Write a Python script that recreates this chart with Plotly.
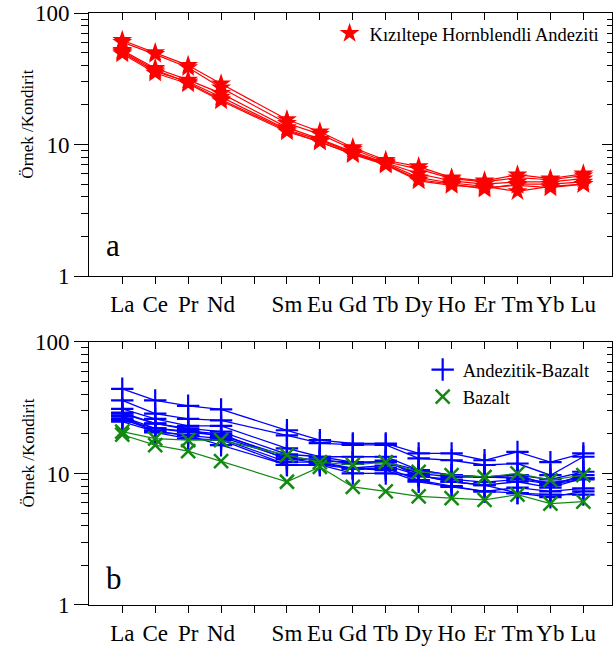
import plotly.graph_objects as go

elements = ["La", "Ce", "Pr", "Nd", "Pm", "Sm", "Eu", "Gd", "Tb", "Dy", "Ho", "Er", "Tm", "Yb", "Lu"]
tick_text = ["La", "Ce", "Pr", "Nd", "", "Sm", "Eu", "Gd", "Tb", "Dy", "Ho", "Er", "Tm", "Yb", "Lu"]
ree = ["La", "Ce", "Pr", "Nd", "Sm", "Eu", "Gd", "Tb", "Dy", "Ho", "Er", "Tm", "Yb", "Lu"]

# Kızıltepe Hornblendli Andeziti (panel a)
kiz_1 = [62, 50, 40, 29, 15.5, 12.5, 9.5, 7.6, 6.8, 5.6, 5.3, 5.9, 5.5, 6.0]
kiz_2 = [60, 48.5, 38.5, 27, 14.5, 12.0, 9.2, 7.4, 6.5, 5.5, 5.2, 5.6, 5.4, 5.8]
kiz_3 = [52, 38, 31, 24.5, 13.5, 11.0, 8.8, 7.3, 6.0, 5.3, 5.0, 5.2, 5.2, 5.5]
kiz_4 = [50, 36, 30, 23, 13.0, 10.8, 8.6, 7.2, 5.6, 5.1, 4.8, 4.4, 4.8, 5.0]
kiz_5 = [51, 37, 29.5, 22, 12.8, 10.5, 8.5, 7.1, 5.4, 5.0, 4.6, 5.0, 5.0, 5.2]
kiz_6 = [49, 35, 29, 21.5, 12.5, 10.5, 8.4, 7.0, 5.3, 4.9, 4.7, 4.9, 4.7, 5.0]
kiz_series = [kiz_1, kiz_2, kiz_3, kiz_4, kiz_5, kiz_6]

# Andezitik-Bazalt (panel b)
ab_1 = [44, 35.9, 32.7, 30.7, 21.3, 17.9, 16.9, 16.9, 14.2, 14.2, 12.6, 14.6, 12.2, 14.2]
ab_2 = [35.9, 28.5, 26, 25.3, 19.5, 17.0, 16.5, 16.5, 13.0, 12.6, 11.6, 11.9, 9.7, 13.4]
ab_3 = [31, 26, 23, 23, 15.5, 13.4, 13.4, 13.4, 10.6, 9.7, 9.4, 9.7, 9.0, 10.3]
ab_4 = [28.5, 23.9, 22, 20.8, 14.0, 13.4, 12.2, 12.2, 10.6, 9.7, 9.4, 9.7, 8.15, 9.7]
ab_5 = [27, 22, 20.5, 19.5, 13.5, 12.5, 12.2, 12.2, 10.0, 9.4, 9.4, 9.2, 8.5, 9.2]
ab_6 = [26, 21, 19.5, 18.4, 12.2, 12.2, 11.0, 11.5, 9.7, 8.65, 8.15, 8.65, 7.8, 9.2]
ab_7 = [24.8, 20.8, 19.5, 16.4, 11.6, 11.6, 10.9, 10.6, 8.65, 7.9, 7.3, 7.8, 7.3, 7.7]
ab_8 = [25.5, 22, 21, 20, 12.8, 12.8, 11.8, 12.5, 9.5, 9.0, 8.6, 9.0, 8.3, 9.0]
ab_9 = [27.5, 20.5, 18.4, 18, 11.6, 11.6, 10.0, 10.0, 9.7, 8.65, 8.15, 7.1, 6.9, 6.9]
ab_10 = [29, 24, 21.5, 19, 13.0, 12.0, 10.9, 11.0, 8.9, 8.0, 7.3, 7.1, 6.6, 7.3]
ab_series = [ab_1, ab_2, ab_3, ab_4, ab_5, ab_6, ab_7, ab_8, ab_9, ab_10]

# Bazalt (panel b)
baz_1 = [20.8, 18.4, 17.9, 17.9, 13.8, 12.2, 11.6, 12.2, 10.3, 9.7, 9.4, 10.0, 8.9, 9.7]
baz_2 = [19.7, 16.4, 14.8, 12.4, 8.65, 11.2, 7.9, 7.3, 6.7, 6.5, 6.3, 6.9, 5.9, 6.1]
baz_series = [baz_1, baz_2]

x_pos = [elements.index(e) for e in ree]
y_major = [1, 10, 100]
y_minor = [2, 3, 4, 5, 6, 7, 8, 9, 20, 30, 40, 50, 60, 70, 80, 90]

FONT = "Liberation Serif, Times New Roman, serif"
RED, BLUE, GREEN = "#ff0000", "#0000ff", "#128a12"

fig = go.Figure()

for s in kiz_series:
    fig.add_trace(go.Scatter(x=x_pos, y=s, mode="lines+markers", xaxis="x", yaxis="y",
                             line=dict(color=RED, width=1.2),
                             marker=dict(symbol="star", size=15, color=RED, line=dict(width=0)),
                             showlegend=False, hoverinfo="skip"))
for s in ab_series:
    fig.add_trace(go.Scatter(x=x_pos, y=s, mode="lines+markers", xaxis="x2", yaxis="y2",
                             line=dict(color=BLUE, width=1.3),
                             marker=dict(symbol="cross-thin-open", size=16, color=BLUE,
                                         line=dict(width=2.2, color=BLUE)),
                             showlegend=False, hoverinfo="skip"))
for s in baz_series:
    fig.add_trace(go.Scatter(x=x_pos, y=s, mode="lines+markers", xaxis="x2", yaxis="y2",
                             line=dict(color=GREEN, width=1.2),
                             marker=dict(symbol="x-thin-open", size=14, color=GREEN,
                                         line=dict(width=2.5, color=GREEN)),
                             showlegend=False, hoverinfo="skip"))

# legend entries (marker only)
fig.add_trace(go.Scatter(x=[None], y=[None], mode="markers", xaxis="x", yaxis="y",
                         name="Kızıltepe Hornblendli Andeziti", legend="legend",
                         marker=dict(symbol="star", size=15, color=RED, line=dict(width=0))))
fig.add_trace(go.Scatter(x=[None], y=[None], mode="markers", xaxis="x2", yaxis="y2",
                         name="Andezitik-Bazalt", legend="legend2",
                         marker=dict(symbol="cross-thin-open", size=16, color=BLUE,
                                     line=dict(width=2.2, color=BLUE))))
fig.add_trace(go.Scatter(x=[None], y=[None], mode="markers", xaxis="x2", yaxis="y2",
                         name="Bazalt", legend="legend2",
                         marker=dict(symbol="x-thin-open", size=14, color=GREEN,
                                     line=dict(width=2.5, color=GREEN))))

# dummy traces for the mirror axes (top / right with inward ticks)
for xa, ya in [("x3", "y"), ("x", "y3"), ("x4", "y2"), ("x2", "y4")]:
    fig.add_trace(go.Scatter(x=[None], y=[None], xaxis=xa, yaxis=ya, showlegend=False,
                             hoverinfo="skip"))

XR = [-1.01, 14.87]
dom_top = [0.5556, 1.0]
dom_bot = [0.0, 0.4444]

def xbase(domain, anchor):
    return dict(domain=[0, 1], anchor=anchor, range=XR, tickmode="array",
                tickvals=list(range(len(elements))), ticktext=tick_text,
                ticks="outside", ticklen=7, tickwidth=1, tickcolor="black",
                showline=True, linecolor="black", linewidth=1, showgrid=False,
                zeroline=False, tickfont=dict(family=FONT, size=23, color="black"))

def xtop(overlay, anchor):
    return dict(overlaying=overlay, anchor=anchor, side="top", range=XR, tickmode="array",
                tickvals=list(range(len(elements))), ticks="inside", ticklen=7, tickwidth=1,
                tickcolor="black", showticklabels=False, showline=True, linecolor="black",
                linewidth=1, showgrid=False, zeroline=False)

def ybase(domain, anchor):
    return dict(domain=domain, anchor=anchor, type="log", range=[0, 2], tickmode="array",
                tickvals=y_major, ticktext=["1", "10", "100"], ticks="outside", ticklen=14,
                tickwidth=1, tickcolor="black",
                minor=dict(tickmode="array", tickvals=y_minor, ticks="outside", ticklen=7,
                           tickwidth=1, tickcolor="black", showgrid=False),
                showline=True, linecolor="black", linewidth=1, showgrid=False, zeroline=False,
                tickfont=dict(family=FONT, size=23, color="black"))

def yright(overlay, anchor, domain):
    return dict(overlaying=overlay, anchor=anchor, side="right", type="log", range=[0, 2],
                domain=domain, tickmode="array", tickvals=y_major, ticks="inside", ticklen=10,
                tickwidth=1, tickcolor="black", showticklabels=False,
                minor=dict(tickmode="array", tickvals=y_minor, ticks="inside", ticklen=5,
                           tickwidth=1, tickcolor="black", showgrid=False),
                showline=True, linecolor="black", linewidth=1, showgrid=False, zeroline=False)

def ytitle(ypaper):
    return dict(text="Örnek /Kondirit", xref="paper", yref="paper", x=-0.1166, y=ypaper,
                xanchor="center", yanchor="middle", textangle=-90, showarrow=False,
                font=dict(family=FONT, size=17, color="black"))

def panel_label(txt, ypaper):
    return dict(text=txt, xref="paper", yref="paper", x=0.028, y=ypaper, xanchor="left",
                yanchor="bottom", showarrow=False, font=dict(family=FONT, size=31, color="black"))

fig.update_layout(
    width=613, height=647,
    margin=dict(l=89, r=1, t=13, b=40),
    plot_bgcolor="white", paper_bgcolor="white",
    font=dict(family=FONT, color="black"),
    xaxis=xbase(dom_top, "y"),
    yaxis=ybase(dom_top, "x"),
    xaxis2=xbase(dom_bot, "y2"),
    yaxis2=ybase(dom_bot, "x2"),
    xaxis3=xtop("x", "y"),
    yaxis3=yright("y", "x", dom_top),
    xaxis4=xtop("x2", "y2"),
    yaxis4=yright("y2", "x2", dom_bot),
    legend=dict(x=0.46, y=0.997, xanchor="left", yanchor="top", bgcolor="rgba(0,0,0,0)",
                font=dict(family=FONT, size=18.5, color="black")),
    legend2=dict(x=0.638, y=0.429, xanchor="left", yanchor="top", bgcolor="rgba(0,0,0,0)",
                 font=dict(family=FONT, size=18.5, color="black"), tracegroupgap=0),
    annotations=[
        ytitle((607 - 125) / 594),
        ytitle((607 - 455) / 594),
        panel_label("a", (607 - 266) / 594),
        panel_label("b", (607 - 600) / 594),
    ],
)

fig.write_html("out.html")
